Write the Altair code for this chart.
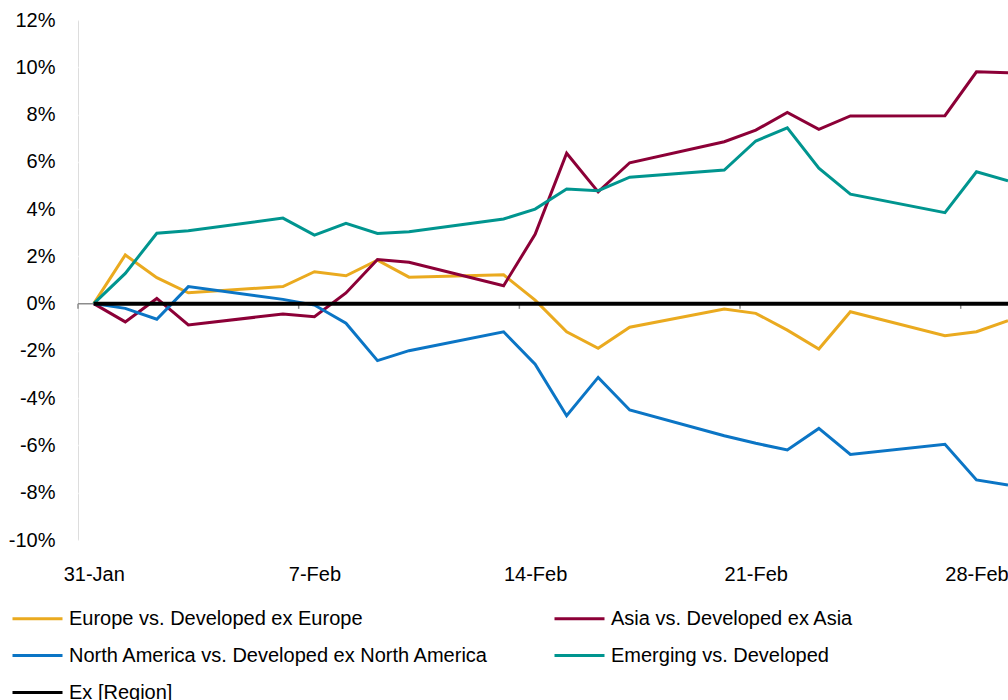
import altair as alt
import pandas as pd

dates = ["2017-01-31", "2017-02-01", "2017-02-02", "2017-02-03", "2017-02-06",
         "2017-02-07", "2017-02-08", "2017-02-09", "2017-02-10", "2017-02-13",
         "2017-02-14", "2017-02-15", "2017-02-16", "2017-02-17", "2017-02-20",
         "2017-02-21", "2017-02-22", "2017-02-23", "2017-02-24", "2017-02-27",
         "2017-02-28", "2017-03-01"]
europe = [0, 2.06, 1.10, 0.46, 0.72, 1.35, 1.18, 1.84, 1.12, 1.22, 0.15, -1.19,
          -1.89, -1.0, -0.23, -0.41, -1.12, -1.92, -0.34, -1.36, -1.19, -0.72]
asia = [0, -0.77, 0.22, -0.9, -0.44, -0.55, 0.45, 1.87, 1.75, 0.76, 2.93, 6.36,
        4.73, 5.96, 6.85, 7.34, 8.09, 7.37, 7.94, 7.95, 9.81, 9.77]
north_america = [0, -0.2, -0.66, 0.72, 0.18, -0.06, -0.83, -2.41, -1.99, -1.19,
                 -2.56, -4.74, -3.12, -4.5, -5.59, -5.91, -6.19, -5.28, -6.38,
                 -5.95, -7.46, -7.67]
emerging = [0, 1.28, 2.98, 3.08, 3.62, 2.9, 3.4, 2.97, 3.04, 3.58, 4.0, 4.85,
            4.78, 5.35, 5.65, 6.88, 7.44, 5.73, 4.63, 3.85, 5.58, 5.2]
ex_region = [0] * len(dates)

series_names = ["Europe vs. Developed ex Europe", "Asia vs. Developed ex Asia",
                "North America vs. Developed ex North America",
                "Emerging vs. Developed", "Ex [Region]"]
series_colors = ["#EAAA1F", "#8C0037", "#0B75C5", "#00958F", "#000000"]

# legend is filled column by column: left column, then right column
legend_order = [0, 2, 4, 1, 3]

tick_label_dates = ["2017-01-31", "2017-02-07", "2017-02-14", "2017-02-21", "2017-02-28"]
tick_mark_dates = ["2017-01-30T12:00:00Z", "2017-02-06T12:00:00Z", "2017-02-13T12:00:00Z",
                   "2017-02-20T12:00:00Z", "2017-02-27T12:00:00Z"]
y_ticks = list(range(-10, 13, 2))

rows = []
for name, vals in zip(series_names, [europe, asia, north_america, emerging, ex_region]):
    for d, v in zip(dates, vals):
        rows.append({"date": d + "T00:00:00Z", "value": v, "series": name})
df = pd.DataFrame(rows)

FONT = "Liberation Sans"
FS = 20

def dt(s):
    y, m, d = s[:10].split("-")
    h = 12 if "T12" in s else 0
    return alt.DateTime(year=int(y), month=int(m), date=int(d), hours=h, utc=True)

x_scale = alt.Scale(type="utc", domain=[dt("2017-01-30T12"), dt("2017-03-01")])
y_scale = alt.Scale(domain=[-10, 12], nice=False)

color_scale = alt.Scale(domain=[series_names[i] for i in legend_order],
                        range=[series_colors[i] for i in legend_order])

x_enc = alt.X("date:T", scale=x_scale,
              axis=alt.Axis(values=[dt(s) for s in tick_label_dates],
                            labelExpr="utcFormat(datum.value, '%-d-%b')",
                            title=None, grid=False, domain=False, ticks=False,
                            labelPadding=24, labelFontSize=FS, labelFont=FONT,
                            labelColor="#000000"))
y_enc = alt.Y("value:Q", scale=y_scale,
              axis=alt.Axis(values=y_ticks, labelExpr="datum.value + '%'",
                            title=None, grid=True, gridColor="#ffffff", gridWidth=1.5,
                            domain=False, ticks=False, labelPadding=23,
                            labelFontSize=FS, labelFont=FONT, labelColor="#000000"))

axis_line = alt.Chart(pd.DataFrame({"v": [0]})).mark_rule(
    color="#8c8c8c", strokeWidth=1.5).encode(y=alt.datum(0, scale=y_scale))

ticks = alt.Chart(pd.DataFrame({"date": tick_mark_dates})).mark_rule(
    color="#8c8c8c", strokeWidth=1.5).encode(
    x=alt.X("date:T", scale=x_scale),
    y=alt.datum(0),
    y2=alt.datum(-0.22),
)

lines = alt.Chart(df[df.series != "Ex [Region]"]).mark_line(strokeWidth=3).encode(
    x=x_enc, y=y_enc,
    color=alt.Color("series:N", scale=color_scale,
                    legend=alt.Legend(title=None, orient="none", legendX=-67, legendY=572,
                                      columns=2, columnPadding=58, rowPadding=-20,
                                      symbolType="stroke", symbolSize=2500,
                                      symbolStrokeWidth=3, labelFontSize=FS,
                                      labelFont=FONT, labelColor="#000000",
                                      labelOffset=5, labelLimit=0, padding=0)),
)

zero_line = alt.Chart(df[df.series == "Ex [Region]"]).mark_line(strokeWidth=4).encode(
    x=alt.X("date:T", scale=x_scale), y=alt.Y("value:Q", scale=y_scale),
    color=alt.Color("series:N", scale=color_scale),
)

chart = alt.layer(axis_line, ticks, lines, zero_line).properties(
    width=930, height=520,
    autosize=alt.AutoSizeParams(type="none"),
    padding={"left": 78, "top": 20, "right": 0, "bottom": 160},
).configure_view(fill="#f7f7f7", stroke=None).configure(background="#ffffff")

chart.save("out.html", embed_options={"renderer": "svg", "actions": False})
